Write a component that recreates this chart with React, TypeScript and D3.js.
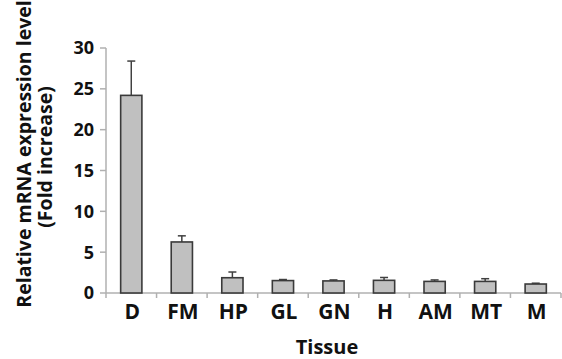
import React from "react";
import * as d3 from "d3";

const categories = ["D", "FM", "HP", "GL", "GN", "H", "AM", "MT", "M"];
const values = [24.2, 6.25, 1.87, 1.52, 1.48, 1.55, 1.42, 1.42, 1.1];
const errors = [4.2, 0.75, 0.7, 0.13, 0.12, 0.35, 0.18, 0.33, 0.1];
const yTicks = [0, 5, 10, 15, 20, 25, 30];

const W = 562;
const H = 359;
const left = 106;
const right = 561;
const top = 48;
const bottom = 293;
const FONT = "'Open Sans', 'Noto Sans', sans-serif";

export default function App() {
  const x = d3.scaleBand<string>().domain(categories).range([left, right]).paddingInner(0).paddingOuter(0);
  const y = d3.scaleLinear().domain([0, 30]).range([bottom, top]);
  const bw = x.bandwidth() * 0.42;
  const axisColor = "#b0b0b0";
  const boundaries = categories.map((c) => x(c)!).concat([right]);

  return (
    <svg width={W} height={H} style={{ position: "absolute", left: 0, top: 0, background: "#fff" }}>
      {/* y axis */}
      <line x1={left} x2={left} y1={top} y2={bottom} stroke={axisColor} strokeWidth={1.5} />
      {yTicks.map((t) => (
        <g key={t}>
          <line x1={left - 6} x2={left} y1={y(t)} y2={y(t)} stroke={axisColor} strokeWidth={1.5} />
          <text x={94} y={y(t)} dy="0.36em" textAnchor="end" fontFamily={FONT} fontWeight="bold" fontSize={18} fill="#111">
            {t}
          </text>
        </g>
      ))}
      {/* x axis */}
      <line x1={left} x2={right} y1={bottom} y2={bottom} stroke={axisColor} strokeWidth={1.5} />
      {boundaries.map((b, i) => (
        <line key={i} x1={b} x2={b} y1={bottom} y2={bottom + 5} stroke={axisColor} strokeWidth={1.5} />
      ))}
      {/* bars */}
      {categories.map((c, i) => {
        const cx = x(c)! + x.bandwidth() / 2;
        return (
          <g key={c}>
            <line x1={cx} x2={cx} y1={y(values[i])} y2={y(values[i] + errors[i])} stroke="#404040" strokeWidth={1.5} />
            <line x1={cx - 4} x2={cx + 4} y1={y(values[i] + errors[i])} y2={y(values[i] + errors[i])} stroke="#404040" strokeWidth={1.5} />
            <rect x={cx - bw / 2} y={y(values[i])} width={bw} height={bottom - y(values[i])} fill="#c0c0c0" stroke="#3a3a3a" strokeWidth={1.6} />
            <text x={cx + 1} y={319} textAnchor="middle" fontFamily={FONT} fontWeight="bold" fontSize={21} fill="#111">
              {c}
            </text>
          </g>
        );
      })}
      <text x={327} y={354} textAnchor="middle" fontFamily={FONT} fontWeight="bold" fontSize={20} fill="#111">
        Tissue
      </text>
      <text transform="translate(31,154) rotate(-90)" textAnchor="middle" fontFamily={FONT} fontWeight="bold" fontSize={19.5} fill="#111">
        Relative mRNA expression level
      </text>
      <text transform="translate(52,157) rotate(-90)" textAnchor="middle" fontFamily={FONT} fontWeight="bold" fontSize={19.5} fill="#111">
        (Fold increase)
      </text>
    </svg>
  );
}
